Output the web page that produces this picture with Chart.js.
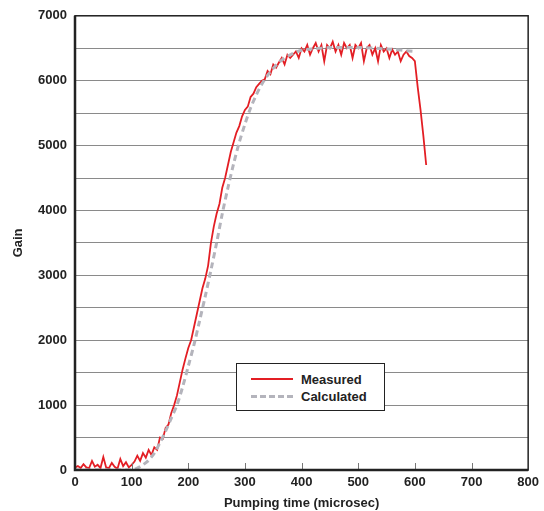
<!DOCTYPE html>
<html>
<head>
<meta charset="utf-8">
<script src="https://cdn.jsdelivr.net/npm/chart.js@4.4.1/dist/chart.umd.min.js"></script>
<style>
  html, body { margin: 0; padding: 0; background: #fff; }
  #wrap { position: relative; width: 544px; height: 511px; }
  #legend {
    position: absolute; left: 236px; top: 363px; width: 149px; height: 48px;
    border: 1px solid #222; background: #fff; box-sizing: border-box;
    font: bold 13px "Liberation Sans", Arial, sans-serif; color: #222;
  }
  .row { position: absolute; left: 14px; height: 16px; display: flex; align-items: center; }
  .swatch { width: 42px; height: 0; margin-right: 8px; }
</style>
</head>
<body>
<div id="wrap">
  <canvas id="gainChart" width="544" height="511"></canvas>
  <div id="legend">
    <div class="row" style="top:7px"><span class="swatch" style="border-top:2px solid #e31e24"></span>Measured</div>
    <div class="row" style="top:24px"><span class="swatch" style="border-top:3px dashed #b4b4bc"></span>Calculated</div>
  </div>
</div>
<script>
/* ---------------------------
   Data
--------------------------- */
const measuredTime = [
  0, 5, 10, 15, 20, 25, 30, 35, 40, 45, 50, 55, 60, 65, 70, 75, 80, 85, 90, 95, 100,
  105, 110, 115, 120, 125, 130, 135, 140, 145, 150, 155, 160, 165, 170, 175, 180, 185, 190, 195,
  200, 205, 210, 215, 220, 225, 230, 235, 240, 245, 250, 255, 260, 265, 270, 275, 280, 285, 290, 295,
  300, 305, 310, 315, 320, 325, 330, 335, 340, 345, 350, 355, 360, 365, 370, 375, 380, 385, 390, 395,
  400, 405, 410, 415, 420, 425, 430, 435, 440, 445, 450, 455, 460, 465, 470, 475, 480, 485, 490, 495,
  500, 505, 510, 515, 520, 525, 530, 535, 540, 545, 550, 555, 560, 565, 570, 575, 580, 585, 590, 595,
  600, 605, 610, 615, 620
];
const measuredGain = [
  40, 60, 30, 90, 40, 30, 140, 50, 80, 30, 200, 40, 30, 110, 50, 20, 170, 60, 120, 40, 80,
  130, 220, 140, 260, 190, 310, 230, 350, 310, 500, 480, 650, 700, 880, 1000, 1150, 1350, 1550, 1720,
  1880, 2000, 2200, 2400, 2600, 2800, 2950, 3150, 3500, 3750, 3950, 4100, 4350, 4500, 4700, 4900, 5050, 5200, 5300, 5450,
  5550, 5600, 5750, 5800, 5900, 5950, 6000, 6020, 6150, 6100, 6250, 6200, 6280, 6350, 6250, 6400, 6350, 6400, 6450, 6350,
  6500, 6450, 6550, 6400, 6500, 6580, 6450, 6550, 6300, 6550, 6500, 6600, 6450, 6550, 6400, 6580, 6500, 6550, 6350, 6550,
  6500, 6580, 6300, 6500, 6550, 6400, 6500, 6300, 6550, 6450, 6500, 6350, 6480, 6400, 6450, 6300, 6400, 6450, 6380, 6350,
  6300, 5900, 5550, 5150, 4700
];

const calcTime = [
  0, 100, 110, 120, 130, 140, 150, 160, 170, 180, 190, 200, 210, 220, 230, 240, 250, 260, 270, 280, 290,
  300, 310, 320, 330, 340, 350, 360, 370, 380, 390, 400, 420, 450, 500, 550, 600
];
const calcGain = [
  0, 0, 30, 80, 150, 260, 420, 600, 800, 1000, 1280, 1600, 1930, 2300, 2680, 3080, 3500, 3950, 4350, 4720, 5050,
  5330, 5580, 5780, 5950, 6080, 6190, 6280, 6350, 6400, 6440, 6470, 6490, 6510, 6510, 6490, 6450
];

const xTicks = [0, 100, 200, 300, 400, 500, 600, 700, 800];

function toPoints(xs, ys) {
  return xs.map((x, i) => ({ x, y: ys[i] }));
}

/* ---------------------------
   Frame + inner tick marks
--------------------------- */
const framePlugin = {
  id: "frame",
  afterDraw(chart) {
    const { ctx, chartArea: a, scales } = chart;
    ctx.save();
    // inner ticks on the time axis
    ctx.strokeStyle = "#777";
    ctx.lineWidth = 1;
    for (const v of xTicks.slice(1, -1)) {
      const px = Math.round(scales.x.getPixelForValue(v)) + 0.5;
      ctx.beginPath();
      ctx.moveTo(px, a.bottom);
      ctx.lineTo(px, a.bottom - 7);
      ctx.stroke();
    }
    ctx.strokeStyle = "#222";
    ctx.lineWidth = 1.5;
    ctx.strokeRect(a.left, a.top, a.right - a.left, a.bottom - a.top);
    ctx.lineWidth = 2.5;
    ctx.beginPath();
    ctx.moveTo(a.left, a.top);
    ctx.lineTo(a.left, a.bottom);
    ctx.lineTo(a.right, a.bottom);
    ctx.stroke();
    ctx.restore();
  }
};

const tickFont = { family: "'Liberation Sans', Arial, sans-serif", size: 13, weight: "bold" };

new Chart(document.getElementById("gainChart"), {
  type: "line",
  data: {
    datasets: [
      {
        label: "Calculated",
        data: toPoints(calcTime, calcGain),
        borderColor: "#b4b4bc",
        borderWidth: 3,
        borderDash: [6, 4],
        pointRadius: 0,
        tension: 0.3,
        fill: false
      },
      {
        label: "Measured",
        data: toPoints(measuredTime, measuredGain),
        borderColor: "#e31e24",
        borderWidth: 1.8,
        pointRadius: 0,
        tension: 0,
        fill: false
      }
    ]
  },
  options: {
    responsive: false,
    animation: false,
    layout: { padding: { left: 0, right: 14, top: 15, bottom: 0 } },
    plugins: {
      legend: { display: false },
      tooltip: { enabled: false }
    },
    scales: {
      x: {
        type: "linear",
        min: 0,
        max: 800,
        afterBuildTicks: s => { s.ticks = xTicks.map(v => ({ value: v })); },
        afterFit: s => { s.height = 41; },
        grid: { display: false, drawTicks: false },
        border: { display: false },
        ticks: { font: tickFont, color: "#222", padding: 5, maxRotation: 0 },
        title: {
          display: true,
          text: "Pumping time (microsec)",
          font: tickFont,
          color: "#222",
          padding: { top: 0, bottom: 0 }
        }
      },
      y: {
        min: 0,
        max: 7000,
        afterFit: s => { s.width = 75; },
        grid: { color: "#8a8a8a", lineWidth: 1, drawTicks: false },
        border: { display: false },
        ticks: {
          stepSize: 500,
          font: tickFont,
          color: "#222",
          padding: 8,
          callback: v => (v % 1000 === 0 ? String(v) : "")
        },
        title: {
          display: true,
          text: "Gain",
          font: tickFont,
          color: "#222",
          padding: { top: 11, bottom: 0 }
        }
      }
    }
  },
  plugins: [framePlugin]
});
</script>
</body>
</html>
